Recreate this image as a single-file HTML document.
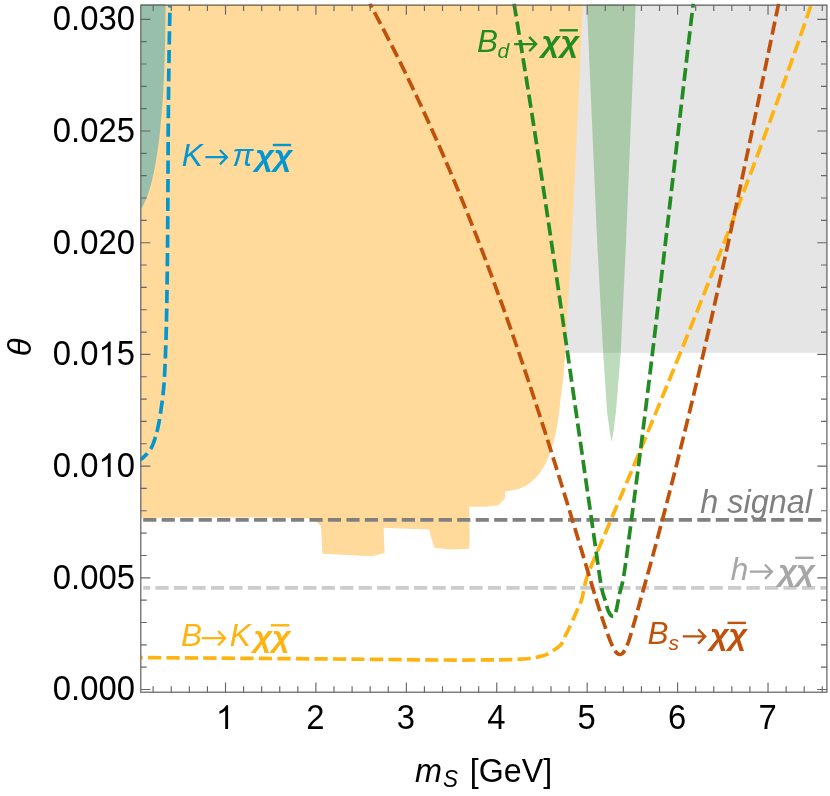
<!DOCTYPE html>
<html><head><meta charset="utf-8"><title>plot</title>
<style>html,body{margin:0;padding:0;background:#fff;}body{width:830px;height:796px;overflow:hidden;font-family:"Liberation Sans",sans-serif;}svg{display:block;will-change:transform;}</style>
</head><body>
<svg width="830" height="796" viewBox="0 0 830 796">
<rect x="0" y="0" width="830" height="796" fill="#ffffff"/>
<defs><clipPath id="cp"><rect x="140.3" y="3.6" width="687.1" height="689.2"/></clipPath></defs>
<g clip-path="url(#cp)">
<rect x="560" y="4.0" width="267.4" height="348.8" fill="#e5e5e5"/>
<path d="M583.00 4.00 C582.55 13.33 581.22 40.67 580.30 60.00 C579.38 79.33 578.43 100.00 577.50 120.00 C576.57 140.00 575.65 160.00 574.70 180.00 C573.75 200.00 573.07 216.67 571.80 240.00 C570.53 263.33 568.20 301.20 567.10 320.00 C566.00 338.80 565.88 342.80 565.20 352.80 C564.52 362.80 563.80 372.13 563.00 380.00 C562.20 387.87 561.05 394.57 560.40 400.00 C559.75 405.43 559.62 408.42 559.10 412.60 C558.58 416.78 558.03 420.92 557.30 425.10 C556.57 429.28 555.75 433.50 554.70 437.70 C553.65 441.90 552.45 446.12 551.00 450.30 C549.55 454.48 547.88 459.03 546.00 462.80 C544.12 466.57 541.90 469.97 539.70 472.90 C537.50 475.83 535.42 478.10 532.80 480.40 C530.18 482.70 526.93 485.13 524.00 486.70 C521.07 488.27 518.35 488.97 515.20 489.80 C512.05 490.63 506.78 491.38 505.10 491.70 L504.8 498.8 L498.3 505.3 L486.7 506.8 L469.1 506.7 L469.7 537.8 L469.1 548.7 L452.0 549.4 L434.4 548.0 L430.4 534.9 L429.6 529.6 L400.0 528.4 L383.6 527.7 L384.6 553.0 L372.3 556.3 L347.0 555.0 L322.4 553.7 L321.0 526.0 L315.9 521.5 L310.0 518.6 L300.0 518.0 L260.0 517.4 L200.0 517.3 L140.8 518.0 L140.8 4.0 Z" fill="#ffda9b"/>
<path d="M165.60 4.00 C165.55 8.33 165.47 20.67 165.30 30.00 C165.13 39.33 164.93 50.00 164.60 60.00 C164.27 70.00 163.68 82.38 163.30 90.00 C162.92 97.62 162.70 100.47 162.30 105.70 C161.90 110.93 161.38 116.17 160.90 121.40 C160.42 126.63 160.00 131.87 159.40 137.10 C158.80 142.33 158.10 147.57 157.30 152.80 C156.50 158.03 155.65 163.27 154.60 168.50 C153.55 173.73 152.27 179.48 151.00 184.20 C149.73 188.92 148.40 193.07 147.00 196.80 C145.60 200.53 143.63 204.53 142.60 206.60 C141.57 208.67 141.10 208.77 140.80 209.20 L140.8 4.0 Z" fill="#98bfac"/>
<path d="M586.9 4.0 L597.1 240.0 L603.2 353.0 L607.0 411.0 L609.8 432.0 L611.6 441.8 L613.4 432.0 L616.0 411.0 L620.7 353.0 L626.1 240.0 L635.7 4.0 Z" fill="#228b22" fill-opacity="0.3"/>
<path d="M143.2 519.8 H826.9" stroke="#808080" fill="none" stroke-width="3.7" stroke-dasharray="13.2 5.27"/>
<path d="M143.2 587.9 H826.9" stroke="#cccccc" stroke-dashoffset="6.2" fill="none" stroke-width="3.7" stroke-dasharray="13.2 5.27"/>
<path d="M140.60 459.70 C141.08 459.30 142.55 458.15 143.50 457.30 C144.45 456.45 145.35 455.65 146.30 454.60 C147.25 453.55 148.27 452.32 149.20 451.00 C150.13 449.68 150.88 448.93 151.90 446.70 C152.92 444.47 154.25 441.00 155.30 437.60 C156.35 434.20 157.35 430.25 158.20 426.30 C159.05 422.35 159.65 418.78 160.40 413.90 C161.15 409.02 162.02 403.15 162.70 397.00 C163.38 390.85 163.93 387.27 164.50 377.00 C165.07 366.73 165.68 349.87 166.10 335.40 C166.52 320.93 166.73 307.77 167.00 290.20 C167.27 272.63 167.48 258.37 167.70 230.00 C167.92 201.63 168.08 148.33 168.30 120.00 C168.52 91.67 168.72 79.17 169.00 60.00 C169.28 40.83 169.83 14.17 170.00 5.00" stroke="#0496d1" stroke-dashoffset="3.8" fill="none" stroke-width="3.7" stroke-dasharray="13.2 5.27"/>
<path d="M140.80 657.60 C150.67 657.67 167.30 657.77 200.00 658.00 C232.70 658.23 296.83 658.67 337.00 659.00 C377.17 659.33 413.83 659.87 441.00 660.00 C468.17 660.13 486.83 659.93 500.00 659.80 C513.17 659.67 515.17 659.42 520.00 659.20 C524.83 658.98 526.17 658.83 529.00 658.50 C531.83 658.17 534.12 657.85 537.00 657.20 C539.88 656.55 543.32 655.90 546.30 654.60 C549.28 653.30 552.38 651.15 554.90 649.40 C557.42 647.65 559.65 646.42 561.40 644.10 C563.15 641.78 564.20 637.97 565.40 635.50 C566.60 633.03 567.13 632.40 568.60 629.30 C570.07 626.20 572.60 620.53 574.20 616.90 C575.80 613.27 576.97 610.33 578.20 607.50 C579.43 604.67 580.68 602.73 581.60 599.90 C582.52 597.07 583.02 593.57 583.70 590.50 C584.38 587.43 584.72 584.92 585.70 581.50 C586.68 578.08 586.26 578.22 589.59 570.00 C592.92 561.78 600.35 544.80 605.70 532.20 C611.05 519.60 616.39 507.00 621.70 494.40 C627.01 481.80 632.30 469.20 637.57 456.60 C642.83 444.00 648.08 431.40 653.29 418.80 C658.50 406.20 663.69 393.60 668.85 381.00 C674.00 368.40 679.13 355.80 684.23 343.20 C689.32 330.60 694.38 318.00 699.41 305.40 C704.43 292.80 709.42 280.20 714.38 267.60 C719.33 255.00 724.24 242.40 729.11 229.80 C733.98 217.20 738.82 204.60 743.60 192.00 C748.39 179.40 753.13 166.80 757.83 154.20 C762.52 141.60 767.17 129.00 771.77 116.40 C776.37 103.80 780.92 91.20 785.42 78.60 C789.91 66.00 794.36 53.40 798.75 40.80 C803.14 28.20 809.58 9.30 811.75 3.00" stroke="#ffb30f" stroke-dashoffset="11.2" fill="none" stroke-width="3.7" stroke-dasharray="13.2 5.27"/>
<path d="M369.80 3.50 C373.79 11.15 386.02 34.09 393.73 49.38 C401.45 64.68 408.89 79.97 416.11 95.27 C423.34 110.56 430.30 125.86 437.07 141.15 C443.84 156.45 450.37 171.74 456.73 187.04 C463.09 202.33 469.23 217.63 475.22 232.92 C481.21 248.22 487.01 263.51 492.67 278.81 C498.33 294.10 503.83 309.40 509.21 324.69 C514.59 339.99 519.82 355.28 524.96 370.58 C530.10 385.87 535.11 401.17 540.05 416.46 C545.00 431.76 549.83 447.05 554.62 462.35 C559.41 477.64 564.10 492.94 568.78 508.23 C573.45 523.53 578.06 538.82 582.67 554.12 C587.27 569.41 593.17 589.35 596.41 600.00 C599.65 610.65 600.40 612.83 602.10 618.00 C603.80 623.17 605.10 626.85 606.60 631.00 C608.10 635.15 609.67 639.57 611.10 642.90 C612.53 646.23 614.13 649.22 615.20 651.00 C616.27 652.78 616.73 653.02 617.50 653.60 C618.27 654.18 619.03 654.50 619.80 654.50 C620.57 654.50 621.37 654.18 622.10 653.60 C622.83 653.02 623.15 652.93 624.20 651.00 C625.25 649.07 626.63 647.08 628.40 642.00 C630.17 636.92 632.78 627.50 634.80 620.50 C636.82 613.50 637.43 611.06 640.50 600.00 C643.57 588.94 649.06 569.41 653.22 554.12 C657.37 538.82 661.43 523.53 665.42 508.23 C669.41 492.94 673.31 477.64 677.15 462.35 C680.99 447.05 684.76 431.76 688.46 416.46 C692.17 401.17 695.80 385.87 699.39 370.58 C702.98 355.28 706.50 339.99 709.99 324.69 C713.47 309.40 716.90 294.10 720.30 278.81 C723.69 263.51 727.04 248.22 730.36 232.92 C733.68 217.63 736.97 202.33 740.23 187.04 C743.49 171.74 746.72 156.45 749.95 141.15 C753.17 125.86 756.36 110.56 759.55 95.27 C762.75 79.97 765.92 64.68 769.10 49.38 C772.28 34.09 777.04 11.15 778.63 3.50" stroke="#c0510a" stroke-dashoffset="8.5" fill="none" stroke-width="3.7" stroke-dasharray="13.2 5.27"/>
<path d="M514.01 3.50 C515.47 12.31 519.88 38.74 522.74 56.36 C525.60 73.98 528.41 91.61 531.18 109.23 C533.96 126.85 536.68 144.47 539.38 162.09 C542.08 179.71 544.73 197.33 547.37 214.95 C550.01 232.58 552.61 250.20 555.20 267.82 C557.79 285.44 560.35 303.06 562.91 320.68 C565.46 338.30 568.00 355.92 570.53 373.55 C573.07 391.17 575.59 408.79 578.12 426.41 C580.65 444.03 583.18 461.65 585.72 479.27 C588.26 496.89 590.80 514.52 593.36 532.14 C595.92 549.76 599.04 573.44 601.08 585.00 C603.12 596.56 604.48 597.38 605.60 601.50 C606.72 605.62 607.05 607.55 607.80 609.70 C608.55 611.85 609.37 613.32 610.10 614.40 C610.83 615.48 611.57 615.90 612.20 616.20 C612.83 616.50 613.37 616.73 613.90 616.20 C614.43 615.67 614.92 614.37 615.40 613.00 C615.88 611.63 616.10 611.25 616.80 608.00 C617.50 604.75 618.42 599.00 619.60 593.50 C620.78 588.00 622.00 586.74 623.90 575.00 C625.80 563.26 628.68 540.36 631.00 523.05 C633.32 505.73 635.58 488.41 637.81 471.09 C640.05 453.77 642.23 436.45 644.39 419.14 C646.54 401.82 648.66 384.50 650.76 367.18 C652.85 349.86 654.92 332.55 656.97 315.23 C659.02 297.91 661.04 280.59 663.06 263.27 C665.08 245.95 667.08 228.64 669.08 211.32 C671.08 194.00 673.07 176.68 675.07 159.36 C677.06 142.05 679.05 124.73 681.06 107.41 C683.06 90.09 685.07 72.77 687.10 55.45 C689.12 38.14 692.20 12.16 693.23 3.50" stroke="#228b22" fill="none" stroke-width="3.7" stroke-dasharray="13.2 5.27"/>
</g>
<path d="M153.16 692.20 v-5.9 M153.16 5.20 v5.9 M171.25 692.20 v-5.9 M171.25 5.20 v5.9 M189.33 692.20 v-5.9 M189.33 5.20 v5.9 M207.42 692.20 v-5.9 M207.42 5.20 v5.9 M225.50 692.20 v-9.6 M225.50 5.20 v9.6 M243.58 692.20 v-5.9 M243.58 5.20 v5.9 M261.67 692.20 v-5.9 M261.67 5.20 v5.9 M279.75 692.20 v-5.9 M279.75 5.20 v5.9 M297.84 692.20 v-5.9 M297.84 5.20 v5.9 M315.92 692.20 v-9.6 M315.92 5.20 v9.6 M334.00 692.20 v-5.9 M334.00 5.20 v5.9 M352.09 692.20 v-5.9 M352.09 5.20 v5.9 M370.17 692.20 v-5.9 M370.17 5.20 v5.9 M388.26 692.20 v-5.9 M388.26 5.20 v5.9 M406.34 692.20 v-9.6 M406.34 5.20 v9.6 M424.42 692.20 v-5.9 M424.42 5.20 v5.9 M442.51 692.20 v-5.9 M442.51 5.20 v5.9 M460.59 692.20 v-5.9 M460.59 5.20 v5.9 M478.68 692.20 v-5.9 M478.68 5.20 v5.9 M496.76 692.20 v-9.6 M496.76 5.20 v9.6 M514.84 692.20 v-5.9 M514.84 5.20 v5.9 M532.93 692.20 v-5.9 M532.93 5.20 v5.9 M551.01 692.20 v-5.9 M551.01 5.20 v5.9 M569.10 692.20 v-5.9 M569.10 5.20 v5.9 M587.18 692.20 v-9.6 M587.18 5.20 v9.6 M605.26 692.20 v-5.9 M605.26 5.20 v5.9 M623.35 692.20 v-5.9 M623.35 5.20 v5.9 M641.43 692.20 v-5.9 M641.43 5.20 v5.9 M659.52 692.20 v-5.9 M659.52 5.20 v5.9 M677.60 692.20 v-9.6 M677.60 5.20 v9.6 M695.68 692.20 v-5.9 M695.68 5.20 v5.9 M713.77 692.20 v-5.9 M713.77 5.20 v5.9 M731.85 692.20 v-5.9 M731.85 5.20 v5.9 M749.94 692.20 v-5.9 M749.94 5.20 v5.9 M768.02 692.20 v-9.6 M768.02 5.20 v9.6 M786.10 692.20 v-5.9 M786.10 5.20 v5.9 M804.19 692.20 v-5.9 M804.19 5.20 v5.9 M822.27 692.20 v-5.9 M822.27 5.20 v5.9 M140.80 689.50 h9.6 M826.90 689.50 h-9.6 M140.80 667.16 h5.9 M826.90 667.16 h-5.9 M140.80 644.82 h5.9 M826.90 644.82 h-5.9 M140.80 622.48 h5.9 M826.90 622.48 h-5.9 M140.80 600.14 h5.9 M826.90 600.14 h-5.9 M140.80 577.80 h9.6 M826.90 577.80 h-9.6 M140.80 555.46 h5.9 M826.90 555.46 h-5.9 M140.80 533.12 h5.9 M826.90 533.12 h-5.9 M140.80 510.78 h5.9 M826.90 510.78 h-5.9 M140.80 488.44 h5.9 M826.90 488.44 h-5.9 M140.80 466.10 h9.6 M826.90 466.10 h-9.6 M140.80 443.76 h5.9 M826.90 443.76 h-5.9 M140.80 421.42 h5.9 M826.90 421.42 h-5.9 M140.80 399.08 h5.9 M826.90 399.08 h-5.9 M140.80 376.74 h5.9 M826.90 376.74 h-5.9 M140.80 354.40 h9.6 M826.90 354.40 h-9.6 M140.80 332.06 h5.9 M826.90 332.06 h-5.9 M140.80 309.72 h5.9 M826.90 309.72 h-5.9 M140.80 287.38 h5.9 M826.90 287.38 h-5.9 M140.80 265.04 h5.9 M826.90 265.04 h-5.9 M140.80 242.70 h9.6 M826.90 242.70 h-9.6 M140.80 220.36 h5.9 M826.90 220.36 h-5.9 M140.80 198.02 h5.9 M826.90 198.02 h-5.9 M140.80 175.68 h5.9 M826.90 175.68 h-5.9 M140.80 153.34 h5.9 M826.90 153.34 h-5.9 M140.80 131.00 h9.6 M826.90 131.00 h-9.6 M140.80 108.66 h5.9 M826.90 108.66 h-5.9 M140.80 86.32 h5.9 M826.90 86.32 h-5.9 M140.80 63.98 h5.9 M826.90 63.98 h-5.9 M140.80 41.64 h5.9 M826.90 41.64 h-5.9 M140.80 19.30 h9.6 M826.90 19.30 h-9.6" stroke="#666666" stroke-width="1.15" fill="none"/>
<rect x="140.8" y="5.2" width="686.1" height="687.0" fill="none" stroke="#666666" stroke-width="1.25"/>
<path transform="translate(215.88,729.00) scale(0.01602,-0.01610)" d="M763 0H583V1147Q518 1085 412.5 1023Q307 961 223 930V1104Q374 1175 487 1276Q600 1377 647 1472H763Z" fill="#000"/>
<text transform="translate(306.30,729.00) scale(1,1.070)" font-size="32.8" font-family="Liberation Sans, sans-serif" fill="#000">2</text>
<text transform="translate(396.72,729.00) scale(1,1.070)" font-size="32.8" font-family="Liberation Sans, sans-serif" fill="#000">3</text>
<text transform="translate(487.14,729.00) scale(1,1.070)" font-size="32.8" font-family="Liberation Sans, sans-serif" fill="#000">4</text>
<text transform="translate(577.56,729.00) scale(1,1.070)" font-size="32.8" font-family="Liberation Sans, sans-serif" fill="#000">5</text>
<text transform="translate(667.98,729.00) scale(1,1.070)" font-size="32.8" font-family="Liberation Sans, sans-serif" fill="#000">6</text>
<text transform="translate(758.40,729.00) scale(1,1.070)" font-size="32.8" font-family="Liberation Sans, sans-serif" fill="#000">7</text>
<text transform="translate(52.82,700.30) scale(1,1.070)" font-size="32.8" font-family="Liberation Sans, sans-serif" fill="#000">0.000</text>
<text transform="translate(52.82,588.60) scale(1,1.070)" font-size="32.8" font-family="Liberation Sans, sans-serif" fill="#000">0.005</text>
<text transform="translate(52.82,476.90) scale(1,1.070)" font-size="32.8" font-family="Liberation Sans, sans-serif" fill="#000">0.0</text><path transform="translate(98.42,476.90) scale(0.01602,-0.01610)" d="M763 0H583V1147Q518 1085 412.5 1023Q307 961 223 930V1104Q374 1175 487 1276Q600 1377 647 1472H763Z" fill="#000"/><text transform="translate(116.66,476.90) scale(1,1.070)" font-size="32.8" font-family="Liberation Sans, sans-serif" fill="#000">0</text>
<text transform="translate(52.82,365.20) scale(1,1.070)" font-size="32.8" font-family="Liberation Sans, sans-serif" fill="#000">0.0</text><path transform="translate(98.42,365.20) scale(0.01602,-0.01610)" d="M763 0H583V1147Q518 1085 412.5 1023Q307 961 223 930V1104Q374 1175 487 1276Q600 1377 647 1472H763Z" fill="#000"/><text transform="translate(116.66,365.20) scale(1,1.070)" font-size="32.8" font-family="Liberation Sans, sans-serif" fill="#000">5</text>
<text transform="translate(52.82,253.50) scale(1,1.070)" font-size="32.8" font-family="Liberation Sans, sans-serif" fill="#000">0.020</text>
<text transform="translate(52.82,141.80) scale(1,1.070)" font-size="32.8" font-family="Liberation Sans, sans-serif" fill="#000">0.025</text>
<text transform="translate(52.82,30.10) scale(1,1.070)" font-size="32.8" font-family="Liberation Sans, sans-serif" fill="#000">0.030</text>
<text transform="translate(415.1,782) scale(1,1.03)" font-size="32.4" font-style="italic" font-family="Liberation Sans, sans-serif" fill="#000">m</text>
<text transform="translate(443.0,787.2) scale(1,1.03)" font-size="22.5" font-style="italic" font-family="Liberation Sans, sans-serif" fill="#000">S</text>
<text transform="translate(469.80,782) scale(1,1.03)" font-size="32.2" font-family="Liberation Sans, sans-serif" fill="#000">[GeV]</text>
<text transform="translate(31.3,347.3) rotate(-90)" font-size="33" font-style="italic" text-anchor="middle" font-family="Liberation Sans, sans-serif" fill="#000">θ</text>
<text x="181.63" y="165.50" font-size="31.5" font-style="italic" font-family="Liberation Sans, sans-serif" fill="#0496d1">K</text><path d="M205.40 157.20 H227.00 M219.90 150.00 L226.90 157.20 L219.90 164.40" fill="none" stroke="#0496d1" stroke-width="2.3" stroke-linejoin="miter"/><text x="232.20" y="165.50" font-size="31.5" font-style="italic" font-family="Liberation Sans, sans-serif" fill="#0496d1">π</text><text transform="translate(255.26,166.40) scale(1.120,1)" font-size="29.0" font-style="italic" font-weight="bold" font-family="Liberation Sans, sans-serif" fill="#0496d1">χ</text><text transform="translate(273.86,166.40) scale(1.120,1)" font-size="29.0" font-style="italic" font-weight="bold" font-family="Liberation Sans, sans-serif" fill="#0496d1">χ</text><path d="M272.80 145.00 H291.20" stroke="#0496d1" stroke-width="2.4" fill="none"/>
<text x="477.03" y="51.50" font-size="31.5" font-style="italic" font-family="Liberation Sans, sans-serif" fill="#228b22">B</text><text x="497.49" y="57.70" font-size="21.0" font-style="italic" font-family="Liberation Sans, sans-serif" fill="#228b22">d</text><path d="M514.10 44.10 H536.30 M529.20 36.90 L536.20 44.10 L529.20 51.30" fill="none" stroke="#228b22" stroke-width="2.3" stroke-linejoin="miter"/><text transform="translate(541.46,52.40) scale(1.120,1)" font-size="29.0" font-style="italic" font-weight="bold" font-family="Liberation Sans, sans-serif" fill="#228b22">χ</text><text transform="translate(560.56,52.40) scale(1.120,1)" font-size="29.0" font-style="italic" font-weight="bold" font-family="Liberation Sans, sans-serif" fill="#228b22">χ</text><path d="M559.50 30.30 H577.90" stroke="#228b22" stroke-width="2.4" fill="none"/>
<text x="647.43" y="644.40" font-size="31.5" font-style="italic" font-family="Liberation Sans, sans-serif" fill="#c0510a">B</text><text x="668.55" y="649.60" font-size="21.0" font-style="italic" font-family="Liberation Sans, sans-serif" fill="#c0510a">s</text><path d="M682.80 636.40 H705.30 M698.20 629.20 L705.20 636.40 L698.20 643.60" fill="none" stroke="#c0510a" stroke-width="2.3" stroke-linejoin="miter"/><text transform="translate(710.06,645.30) scale(1.120,1)" font-size="29.0" font-style="italic" font-weight="bold" font-family="Liberation Sans, sans-serif" fill="#c0510a">χ</text><text transform="translate(728.56,645.30) scale(1.120,1)" font-size="29.0" font-style="italic" font-weight="bold" font-family="Liberation Sans, sans-serif" fill="#c0510a">χ</text><path d="M727.50 622.90 H745.90" stroke="#c0510a" stroke-width="2.4" fill="none"/>
<text x="181.03" y="646.00" font-size="31.5" font-style="italic" font-family="Liberation Sans, sans-serif" fill="#ffb30f">B</text><path d="M201.80 638.20 H225.20 M218.10 631.00 L225.10 638.20 L218.10 645.40" fill="none" stroke="#ffb30f" stroke-width="2.3" stroke-linejoin="miter"/><text x="229.63" y="646.00" font-size="31.5" font-style="italic" font-family="Liberation Sans, sans-serif" fill="#ffb30f">K</text><text transform="translate(253.46,646.90) scale(1.120,1)" font-size="29.0" font-style="italic" font-weight="bold" font-family="Liberation Sans, sans-serif" fill="#ffb30f">χ</text><text transform="translate(271.96,646.90) scale(1.120,1)" font-size="29.0" font-style="italic" font-weight="bold" font-family="Liberation Sans, sans-serif" fill="#ffb30f">χ</text><path d="M270.90 625.30 H289.30" stroke="#ffb30f" stroke-width="2.4" fill="none"/>
<text x="700.36" y="512.70" font-size="32.4" font-style="italic" font-family="Liberation Sans, sans-serif" fill="#808080">h signal</text>
<text x="730.78" y="579.60" font-size="31.5" font-style="italic" font-family="Liberation Sans, sans-serif" fill="#a6a6a6">h</text><path d="M749.80 571.70 H772.00 M764.90 564.50 L771.90 571.70 L764.90 578.90" fill="none" stroke="#a6a6a6" stroke-width="2.3" stroke-linejoin="miter"/><text transform="translate(778.26,580.50) scale(1.120,1)" font-size="29.0" font-style="italic" font-weight="bold" font-family="Liberation Sans, sans-serif" fill="#a6a6a6">χ</text><text transform="translate(796.26,580.50) scale(1.120,1)" font-size="29.0" font-style="italic" font-weight="bold" font-family="Liberation Sans, sans-serif" fill="#a6a6a6">χ</text><path d="M795.20 557.80 H813.60" stroke="#a6a6a6" stroke-width="2.4" fill="none"/>
</svg>
</body></html>
